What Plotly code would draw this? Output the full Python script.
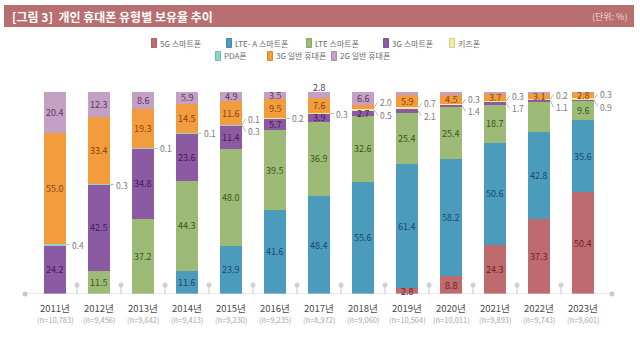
import plotly.graph_objects as go

# ---- data -------------------------------------------------------------
years = ["2011년", "2012년", "2013년", "2014년", "2015년", "2016년", "2017년",
         "2018년", "2019년", "2020년", "2021년", "2022년", "2023년"]
samples = ["10,783", "9,456", "9,642", "9,413", "9,230", "9,235", "8,972",
           "9,060", "10,504", "10,011", "9,893", "9,743", "9,601"]

smart_5g = [None, None, None, None, None, None, None, None, 2.8, 8.8, 24.3, 37.3, 50.4]
smart_lte_a = [None, None, None, 11.6, 23.9, 41.6, 48.4, 55.6, 61.4, 58.2, 50.6, 42.8, 35.6]
smart_lte = [None, 11.5, 37.2, 44.3, 48.0, 39.5, 36.9, 32.6, 25.4, 25.4, 18.7, 15.0, 9.6]
smart_3g = [24.2, 42.5, 34.8, 23.6, 11.4, 5.7, 3.9, 2.7, 2.1, 1.4, 1.7, 1.1, 0.9]
kids_phone = [None, None, None, None, 0.3, 0.2, 0.3, 0.5, 0.7, 0.3, 0.3, 0.2, 0.3]
pda_phone = [0.4, 0.3, 0.1, 0.1, 0.1, None, None, None, None, None, None, None, None]
feature_3g = [55.0, 33.4, 19.3, 14.5, 11.6, 9.5, 7.6, 2.0, 5.9, 4.5, 3.7, 3.1, 2.8]
feature_2g = [20.4, 12.3, 8.6, 5.9, 4.9, 3.5, 2.8, 6.6, 1.8, 1.4, 0.8, 0.5, 0.4]

series_names = ["5G 스마트폰", "LTE- A 스마트폰", "LTE 스마트폰", "3G 스마트폰",
                "키즈폰", "PDA폰", "3G 일반 휴대폰", "2G 일반 휴대폰"]
series_values = [smart_5g, smart_lte_a, smart_lte, smart_3g,
                 kids_phone, pda_phone, feature_3g, feature_2g]

# ---- styling ----------------------------------------------------------
W, H = 640, 340
FONT = "Noto Sans CJK KR"
fill_colors = ["#bf6a6e", "#4b9bbd", "#9dbb77", "#8b5aa2",
               "#f4eba6", "#93d3cb", "#f29c3d", "#c4a1c4"]
edge_colors = ["#9a4a50", "#2f7899", "#78964f", "#6b3d82",
               "#cfc26e", "#63aaa2", "#c97a22", "#9c7a9e"]
text_colors = ["#6e2228", "#1b4a66", "#3b5620", "#3e1c55",
               "#6e6420", "#2a5f59", "#86460c", "#5e355e"]

BAR_W = 0.48
X0_PX, STEP_PX = 55, 44          # first bar centre and bar pitch (px)
Y0_PX, Y100_PX = 294, 92         # pixel rows of 0 % and 100 %
PX_PER_UNIT = (Y0_PX - Y100_PX) / 100.0
unlabelled = {(2, 11)}           # (series, year) segments printed without a value


def paper_x(px):
    return px / W


def paper_y(py):
    return 1 - py / H


def label(**kw):
    base = dict(showarrow=False, xanchor="center", yanchor="middle")
    base.update(kw)
    return base


x_idx = list(range(len(years)))
fig = go.Figure()

for k, vals in enumerate(series_values):
    fig.add_bar(
        x=x_idx, y=[v if v is not None else 0 for v in vals], width=BAR_W,
        marker=dict(color=fill_colors[k], line=dict(width=0)),
        name=series_names[k], showlegend=False, hoverinfo="skip",
    )

annotations = []
lead_x, lead_y = [], []
edge = BAR_W / 2
top_k = len(series_values) - 1

for i in x_idx:
    cum = 0.0
    outside = []
    for k, vals in enumerate(series_values):
        v = vals[i]
        if not v:
            continue
        lo = cum
        cum += v
        mid = lo + v / 2
        if k == top_k and 1.0 <= v < 3.0:
            # thin top segment: value sits on the top edge of the bar
            annotations.append(label(
                x=i, y=cum, xref="x", yref="y", text=f"{v:.1f}",
                yanchor="bottom", yshift=-4,
                font=dict(family=FONT, size=9, color=text_colors[k])))
        elif v >= 2.5:
            if (k, i) in unlabelled:
                continue
            annotations.append(label(
                x=i, y=mid, xref="x", yref="y", text=f"{v:.1f}",
                font=dict(family=FONT, size=9, color=text_colors[k])))
        else:
            outside.append((mid, v))
    # small values are listed to the right of the bar with short leader lines
    if outside:
        n = len(outside)
        spacing = 12.5 / PX_PER_UNIT
        centre = sum(m for m, _ in outside) / n + (1.5 if n > 2 else 0)
        for j, (mid, v) in enumerate(sorted(outside)):
            ly = centre + (j - (n - 1) / 2) * spacing if n > 1 else mid
            x_start = i + edge + 0.5 / STEP_PX
            x_end = i + edge + 4 / STEP_PX
            lead_x += [x_start, x_end, None]
            lead_y += [mid, ly, None]
            annotations.append(label(
                x=i + edge + 4.5 / STEP_PX, y=ly, xref="x", yref="y",
                text=f"{v:.1f}", xanchor="left",
                font=dict(family=FONT, size=8.5, color="#7a7a7a")))

fig.add_scatter(x=lead_x, y=lead_y, mode="lines",
                line=dict(color="#a0a0a0", width=0.8),
                showlegend=False, hoverinfo="skip", cliponaxis=False)

# baseline with pins between the bars
axis_left = (25 - X0_PX) / STEP_PX
axis_right = (612 - X0_PX) / STEP_PX
pin_h = 9 / PX_PER_UNIT
pins = [i + 0.5 for i in x_idx[:-1]]
stem_x, stem_y = [], []
for p in pins:
    stem_x += [p, p, None]
    stem_y += [0, pin_h, None]
fig.add_scatter(x=[axis_left, axis_right], y=[0, 0], mode="lines+markers",
                line=dict(color="#d2d2d2", width=1.2),
                marker=dict(color="#c8c8c8", size=5),
                showlegend=False, hoverinfo="skip", cliponaxis=False)
fig.add_scatter(x=stem_x, y=stem_y, mode="lines",
                line=dict(color="#d2d2d2", width=1.2),
                showlegend=False, hoverinfo="skip", cliponaxis=False)
fig.add_scatter(x=pins, y=[pin_h] * len(pins), mode="markers",
                marker=dict(color="#d0d0d0", size=5),
                showlegend=False, hoverinfo="skip", cliponaxis=False)

# category labels
for i, (yr, n) in enumerate(zip(years, samples)):
    annotations.append(label(x=i, y=paper_y(308), xref="x", yref="paper", text=yr,
                             font=dict(family=FONT, size=9.5, color="#4a4a4a")))
    annotations.append(label(x=i, y=paper_y(319), xref="x", yref="paper",
                             text=f"(n={n})",
                             font=dict(family=FONT, size=7.5, color="#a8a8a8")))

shapes = []
# title banner
shapes.append(dict(type="rect", xref="paper", yref="paper",
                   x0=paper_x(4), x1=paper_x(634), y0=paper_y(27), y1=paper_y(5),
                   fillcolor="#b96e70", line=dict(width=0), layer="below"))
annotations.append(label(x=paper_x(10), y=paper_y(16), xref="paper", yref="paper",
                         text="<b>[그림 3]  개인 휴대폰 유형별 보유율 추이</b>",
                         xanchor="left",
                         font=dict(family=FONT, size=12, color="#ffffff")))
annotations.append(label(x=paper_x(629), y=paper_y(16), xref="paper", yref="paper",
                         text="(단위: %)", xanchor="right",
                         font=dict(family=FONT, size=9, color="#f1d9d9")))

# legend: two centred rows of phone icons
legend_slots = [(154, 43), (229, 43), (309, 43), (386, 43), (452, 43),
                (218, 56), (270, 56), (334, 56)]
for k, (cx, cy) in enumerate(legend_slots):
    shapes.append(dict(type="rect", xref="paper", yref="paper",
                       x0=paper_x(cx - 2.5), x1=paper_x(cx + 2.5),
                       y0=paper_y(cy + 4.5), y1=paper_y(cy - 4.5),
                       fillcolor=fill_colors[k],
                       line=dict(color=edge_colors[k], width=0.8)))
    annotations.append(label(x=paper_x(cx + 4), y=paper_y(cy), xref="paper",
                             yref="paper", text=series_names[k], xanchor="left",
                             font=dict(family=FONT, size=8, color="#6a6a6a")))

fig.update_layout(
    width=W, height=H, barmode="stack",
    margin=dict(l=0, r=0, t=0, b=0),
    paper_bgcolor="#ffffff", plot_bgcolor="#ffffff",
    xaxis=dict(domain=[0, 1], range=[-X0_PX / STEP_PX, (W - X0_PX) / STEP_PX],
               visible=False, fixedrange=True),
    yaxis=dict(domain=[paper_y(Y0_PX), paper_y(Y100_PX)], range=[0, 100],
               visible=False, fixedrange=True),
    annotations=annotations, shapes=shapes,
    font=dict(family=FONT),
)

fig.write_html("out.html")
